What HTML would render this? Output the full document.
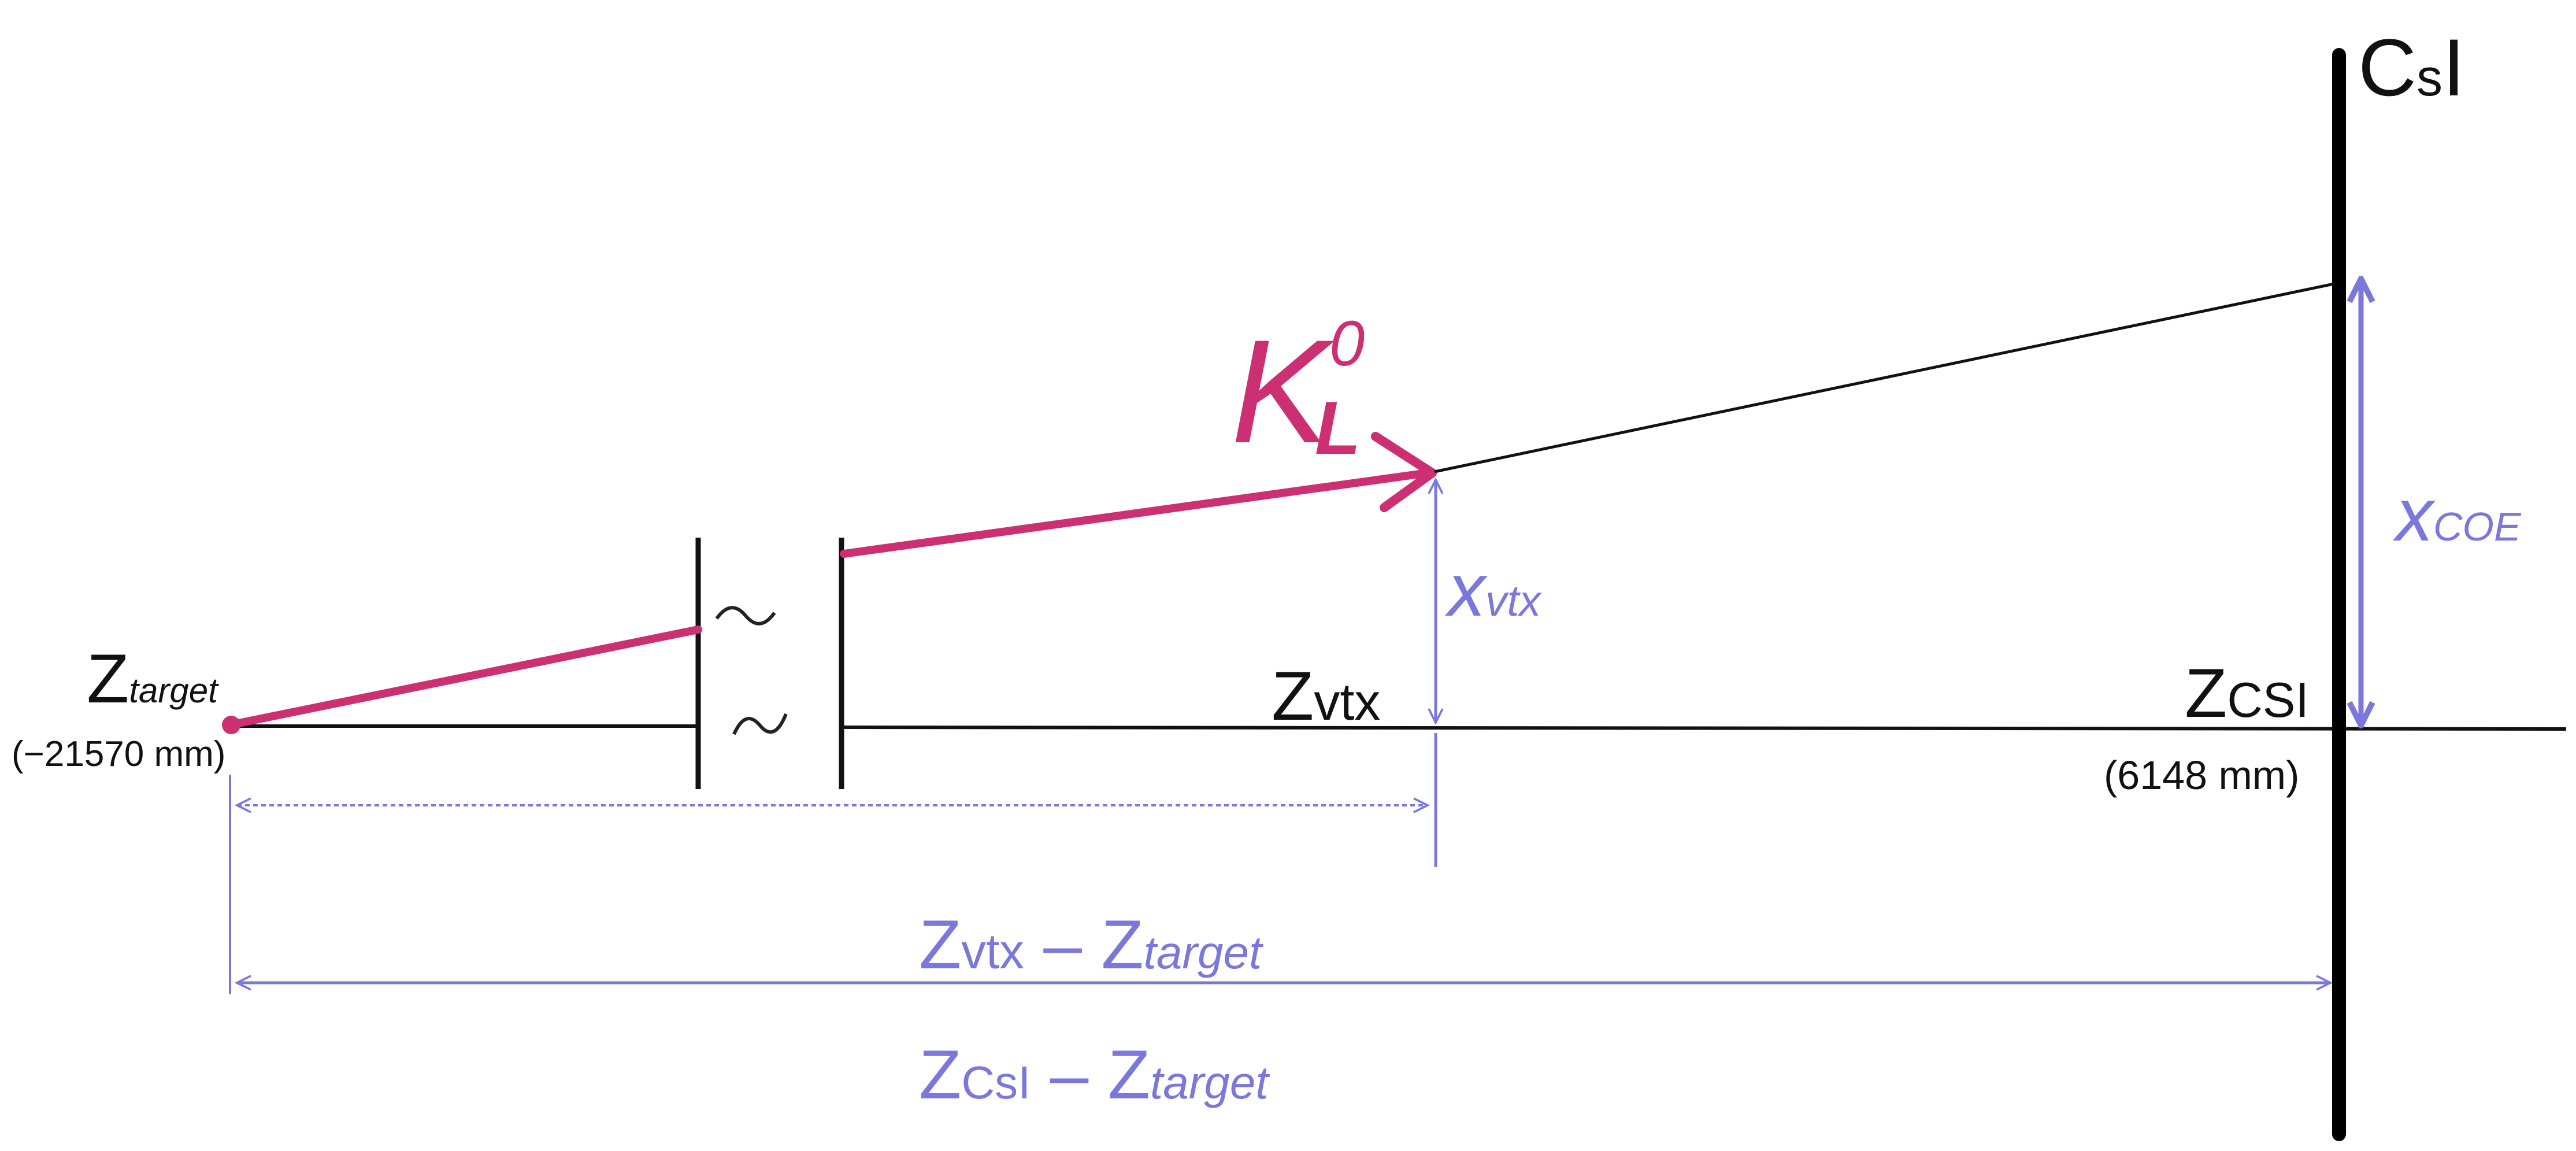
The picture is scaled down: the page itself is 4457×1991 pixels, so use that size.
<!DOCTYPE html>
<html><head><meta charset="utf-8">
<style>
html,body{margin:0;padding:0;background:#fff;}
svg{display:block;}
text{font-family:"Liberation Sans",sans-serif;}
</style></head>
<body>
<svg width="4457" height="1991" viewBox="0 0 4457 1991" xmlns="http://www.w3.org/2000/svg">
<defs>
<marker id="ba" viewBox="0 0 20 20" refX="18" refY="10" markerWidth="30" markerHeight="30" markerUnits="userSpaceOnUse" orient="auto-start-reverse">
<path d="M2,2 L18,10 L2,18" fill="none" stroke="#7b78dc" stroke-width="2.5"/>
</marker>
<marker id="bab" viewBox="0 0 20 20" refX="18" refY="10" markerWidth="50" markerHeight="50" markerUnits="userSpaceOnUse" orient="auto-start-reverse">
<path d="M2,2 L18,10 L2,18" fill="none" stroke="#7b78dc" stroke-width="4"/>
</marker>
</defs>

<line x1="398" y1="1256" x2="1208" y2="1256" stroke="#111" stroke-width="6"/>
<line x1="1456" y1="1258" x2="4440" y2="1261" stroke="#111" stroke-width="6"/>

<line x1="1208" y1="930" x2="1208" y2="1365" stroke="#111" stroke-width="9"/>
<line x1="1456" y1="930" x2="1456" y2="1365" stroke="#111" stroke-width="9"/>
<path d="M1240,1070 q25,-35 50,-5 t50,-5" fill="none" stroke="#222" stroke-width="6"/>
<path d="M1270,1270 q20,-45 45,-15 t45,-20" fill="none" stroke="#222" stroke-width="6"/>

<line x1="398" y1="1254" x2="1208" y2="1089" stroke="#cc2f72" stroke-width="14" stroke-linecap="round"/>
<line x1="1460" y1="958" x2="2470" y2="818" stroke="#cc2f72" stroke-width="14" stroke-linecap="round"/>
<path d="M2380,755 L2478,818 L2395,878" fill="none" stroke="#cc2f72" stroke-width="16" stroke-linecap="round" stroke-linejoin="round"/>
<circle cx="400" cy="1254" r="16" fill="#cc2f72"/>

<line x1="2482" y1="816" x2="4043" y2="490" stroke="#111" stroke-width="5"/>

<line x1="4047" y1="95" x2="4047" y2="1962" stroke="#000" stroke-width="24" stroke-linecap="round"/>
<text x="4080" y="165" font-size="140" fill="#111">C<tspan font-size="90">s</tspan>I</text>

<line x1="2484" y1="830" x2="2484" y2="1250" stroke="#7b78dc" stroke-width="5" marker-start="url(#ba)" marker-end="url(#ba)"/>
<line x1="2484" y1="1268" x2="2484" y2="1500" stroke="#7b78dc" stroke-width="5"/>
<line x1="398" y1="1340" x2="398" y2="1720" stroke="#7b78dc" stroke-width="4"/>
<line x1="410" y1="1393" x2="2470" y2="1393" stroke="#7b78dc" stroke-width="4" stroke-dasharray="8 6" marker-start="url(#ba)" marker-end="url(#ba)"/>
<line x1="410" y1="1700" x2="4032" y2="1700" stroke="#7b78dc" stroke-width="5" marker-start="url(#ba)" marker-end="url(#ba)"/>
<line x1="4085" y1="482" x2="4085" y2="1255" stroke="#7b78dc" stroke-width="9" marker-start="url(#bab)" marker-end="url(#bab)"/>

<text x="2130" y="765" font-size="255" font-style="italic" fill="#cc2f72">K</text>
<text x="2275" y="785" font-size="130" font-weight="bold" font-style="italic" fill="#cc2f72">L</text>
<text x="2300" y="632" font-size="110" font-style="italic" fill="#cc2f72">0</text>
<text x="2505" y="1065" font-size="130" font-style="italic" fill="#7b78dc">x<tspan font-size="75">vtx</tspan></text>
<text x="4145" y="935" font-size="130" font-style="italic" fill="#7b78dc">x<tspan font-size="70">COE</tspan></text>
<text x="2200" y="1245" font-size="120" fill="#111">Z<tspan font-size="90">vtx</tspan></text>
<text x="150" y="1215" font-size="120" fill="#111">Z<tspan font-size="60" font-style="italic">target</tspan></text>
<text x="20" y="1325" font-size="62" fill="#111">(−21570 mm)</text>
<text x="3780" y="1240" font-size="120" fill="#111">Z<tspan font-size="85">CSI</tspan></text>
<text x="3640" y="1365" font-size="70" fill="#111">(6148 mm)</text>
<text x="1590" y="1675" font-size="120" fill="#7b78dc">Z<tspan font-size="85">vtx</tspan> – Z<tspan font-size="80" font-style="italic">target</tspan></text>
<text x="1590" y="1900" font-size="120" fill="#7b78dc">Z<tspan font-size="80">CsI</tspan> – Z<tspan font-size="80" font-style="italic">target</tspan></text>
</svg>
</body></html>
